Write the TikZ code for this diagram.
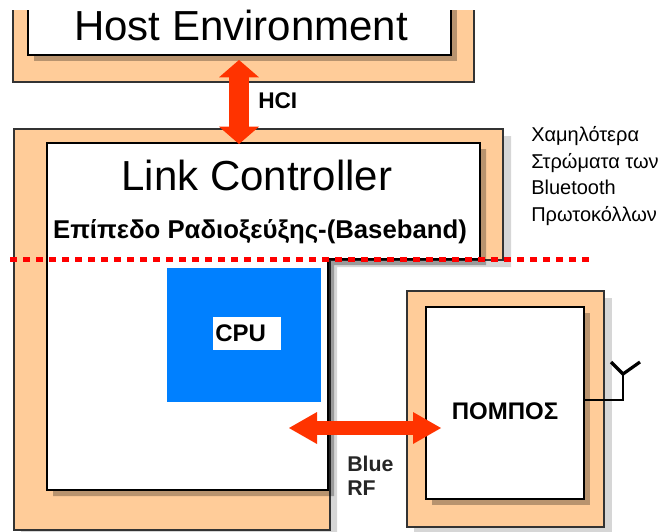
\documentclass[tikz,border=0pt]{standalone}
\usepackage{fontspec}
\setmainfont{Liberation Sans}
\usetikzlibrary{arrows.meta}
\definecolor{peach}{RGB}{255,204,153}
\definecolor{arrowred}{RGB}{255,51,0}
\definecolor{cpublue}{RGB}{0,128,255}
\definecolor{dotred}{RGB}{255,0,0}

\begin{document}
\begin{tikzpicture}[x=0.75pt,y=0.75pt,yscale=-1,xscale=1,
  framebox/.style={draw=black!80,line width=0.9pt,fill=peach},
  whitebox/.style={draw=black,line width=1.2pt,fill=white},
  innershadow/.style={fill=black,fill opacity=0.28,draw=none},
  outershadow/.style={fill=black,fill opacity=0.16,draw=none},
  hciarrow/.style={draw=arrowred,line width=15pt,{Triangle[width=30pt,length=13pt,line width=0pt]}-{Triangle[width=30pt,length=13pt,line width=0pt]}},
  rfarrow/.style={draw=arrowred,line width=11pt,{Triangle[width=24pt,length=21pt,line width=0pt]}-{Triangle[width=24pt,length=21pt,line width=0pt]}},
  titletext/.style={inner sep=0pt,font=\fontsize{31.5}{36}\selectfont},
  boldtext/.style={inner sep=0pt,font=\fontsize{18}{21}\selectfont\bfseries},
  sidetext/.style={inner sep=0pt,align=left,font=\fontsize{15}{20}\selectfont}]
\useasboundingbox (0,0) rectangle (669,532);

%Shape: Host Environment frame (top cut off)
\fill[framebox] (13,10) -- (13,82) -- (474,82) -- (474,10) ;
\draw[framebox,fill=none] (13,10) -- (13,82) -- (474,82) -- (474,10) ;
\fill[innershadow] (34,10) -- (34,61) -- (457,61) -- (457,10) -- cycle ;
\fill[whitebox] (28,10) -- (28,55) -- (451,55) -- (451,10) ;
\draw[whitebox,fill=none] (28,10) -- (28,55) -- (451,55) -- (451,10) ;

%Shape: Link Controller frame
\fill[outershadow] (21,136) -- (511,136) -- (511,267) -- (337,267) -- (337,537) -- (21,537) -- cycle ;
\draw[framebox] (14,129) -- (503,129) -- (503,260) -- (330,260) -- (330,530) -- (14,530) -- cycle ;
\fill[innershadow] (53,149) -- (486,149) -- (486,265) -- (334,265) -- (334,496) -- (53,496) -- cycle ;
\draw[whitebox] (47,143) -- (480,143) -- (480,259) -- (328,259) -- (328,490) -- (47,490) -- cycle ;

%Shape: transmitter frame
\fill[outershadow] (414,298) rectangle (612,534) ;
\draw[framebox] (407,291) rectangle (604,527) ;
\fill[innershadow] (432,313) rectangle (590,505) ;
\draw[whitebox] (426,307) rectangle (584,499) ;

%Shape: CPU block
\fill[cpublue] (167,268) rectangle (321,402) ;
\node[fill=white,inner sep=0pt,minimum height=24.75pt,text width=51pt,anchor=west,
      font=\fontsize{18}{21}\selectfont\bfseries] (cpulabel) at (213,333.5) {\hspace{1.5pt}CPU};

%Arrows
\coordinate (hcitop) at (239,60);
\coordinate (hcibot) at (239,144);
\draw[hciarrow] (hcitop) -- (hcibot) ;
\coordinate (rfleft) at (289,428);
\coordinate (rfright) at (441,428);
\draw[rfarrow] (rfleft) -- (rfright) ;

%Straight Lines: layer border
\draw[dotred,line width=3.75pt,dash pattern=on 5.25pt off 4.5pt] (10,259) -- (595,259) ;

%Straight Lines: antenna
\coordinate (antfeed) at (584,400);
\coordinate (antfoot) at (623,400);
\coordinate (antfork) at (623,374);
\coordinate (antleft) at (611,362);
\coordinate (antright) at (640,362);
\draw[line width=1.5pt] (antfeed) -- (antfoot) -- (antfork) ;
\draw[line width=2.4pt,line join=miter] (antleft) -- (antfork) -- (antright) ;

% Text Node
\node[titletext,anchor=base] (hosttitle) at (241,40) {Host Environment};
% Text Node
\node[titletext,anchor=base] (linktitle) at (257,190) {Link Controller};
% Text Node
\node[inner sep=0pt,anchor=base,font=\fontsize{19.3}{22}\selectfont\bfseries] (basebandtitle) at (260,238) {Επίπεδο Ραδιοξεύξης-(Baseband)};
% Text Node
\node[sidetext,anchor=north west] (layernote) at (531,126) {Χαμηλότερα\\Στρώματα των\\Bluetooth\\Πρωτοκόλλων};
% Text Node
\node[boldtext,anchor=base] (pompos) at (505,419) {ΠΟΜΠΟΣ};
% Text Node
\node[inner sep=0pt,anchor=base west,font=\fontsize{17}{20}\selectfont\bfseries] (hcilabel) at (258,108) {HCI};
% Text Node
\node[inner sep=0pt,anchor=north west,align=left,text=black!85,font=\fontsize{16}{17.5}\selectfont\bfseries] (bluerf) at (347,456) {Blue\\RF};

\end{tikzpicture}
\end{document}
